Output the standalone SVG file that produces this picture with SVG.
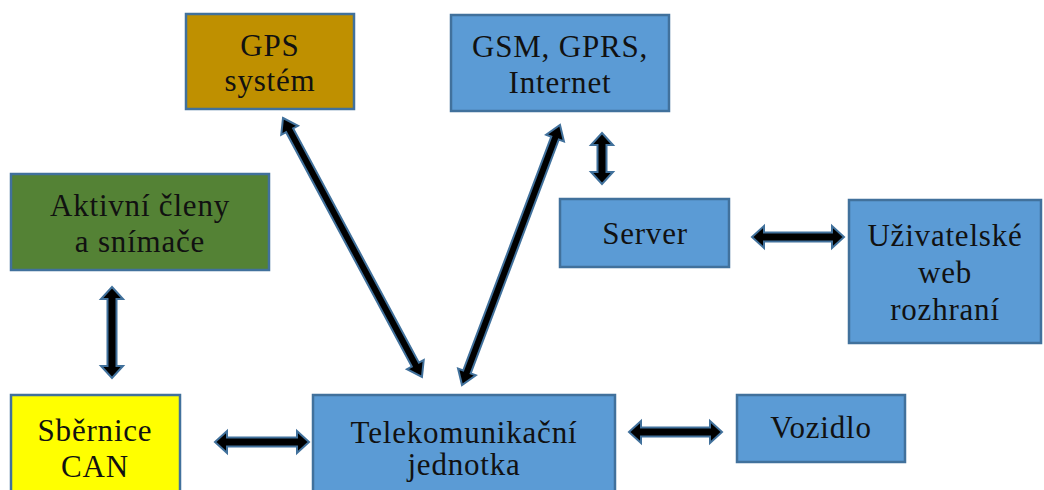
<svg xmlns="http://www.w3.org/2000/svg" width="1044" height="490" viewBox="0 0 1044 490">
<style>
.box{stroke:#41719C;stroke-width:2.5}
.blue{fill:#5B9BD5}
.t{font-family:"Liberation Serif","DejaVu Serif",serif;font-size:31px;fill:#111;text-anchor:middle;letter-spacing:0.8px}
.arr{fill:#000;stroke:#41719C;stroke-width:2;stroke-linejoin:miter}
</style>
<rect width="1044" height="490" fill="#fff"/>
<g id="gps"><rect class="box" x="186" y="14" width="168" height="95" fill="#BF9000"/><text class="t" x="270" y="56">GPS</text><text class="t" x="270" y="91">systém</text></g>
<g id="gsm"><rect class="box blue" x="451" y="15" width="218" height="96"/><text class="t" x="560" y="57">GSM, GPRS,</text><text class="t" x="560" y="93">Internet</text></g>
<g id="aktivni"><rect class="box" x="11" y="174" width="258" height="96" fill="#548235"/><text class="t" x="140" y="216">Aktivní členy</text><text class="t" x="140" y="252">a snímače</text></g>
<g id="server"><rect class="box blue" x="560" y="199" width="169" height="68"/><text class="t" x="645" y="244">Server</text></g>
<g id="uzivatelske"><rect class="box blue" x="849" y="200" width="192" height="143"/><text class="t" x="945" y="246">Uživatelské</text><text class="t" x="945" y="283">web</text><text class="t" x="945" y="320">rozhraní</text></g>
<g id="sbernice"><rect class="box" x="11" y="395" width="169" height="100" fill="#FFFF00"/><text class="t" x="95" y="441">Sběrnice</text><text class="t" x="95" y="477">CAN</text></g>
<g id="telekom"><rect class="box blue" x="313" y="395" width="302" height="100"/><text class="t" x="464" y="443">Telekomunikační</text><text class="t" x="464" y="475">jednotka</text></g>
<g id="vozidlo"><rect class="box blue" x="737" y="395" width="168" height="67"/><text class="t" x="821" y="438">Vozidlo</text></g>
<g id="connectors">
<polygon class="arr" transform="translate(283,118) rotate(61.78)" points="0,0 14,-9.5 14,-4 279.9,-4 279.9,-9.5 293.9,0 279.9,9.5 279.9,4 14,4 14,9.5"/>
<polygon class="arr" transform="translate(560,125) rotate(110.65)" points="0,0 14,-9.5 14,-4 263.9,-4 263.9,-9.5 277.9,0 263.9,9.5 263.9,4 14,4 14,9.5"/>
<polygon class="arr" transform="translate(112,287) rotate(90)" points="0,0 12,-11 12,-4.5 79,-4.5 79,-11 91,0 79,11 79,4.5 12,4.5 12,11"/>
<polygon class="arr" transform="translate(602,133) rotate(90)" points="0,0 12,-11 12,-4.5 39,-4.5 39,-11 51,0 39,11 39,4.5 12,4.5 12,11"/>
<polygon class="arr" transform="translate(752,237)" points="0,0 12,-11 12,-4.5 80,-4.5 80,-11 92,0 80,11 80,4.5 12,4.5 12,11"/>
<polygon class="arr" transform="translate(215,442)" points="0,0 12,-11 12,-4.5 82,-4.5 82,-11 94,0 82,11 82,4.5 12,4.5 12,11"/>
<polygon class="arr" transform="translate(629,432)" points="0,0 12,-11 12,-4.5 81,-4.5 81,-11 93,0 81,11 81,4.5 12,4.5 12,11"/>
</g>
</svg>
